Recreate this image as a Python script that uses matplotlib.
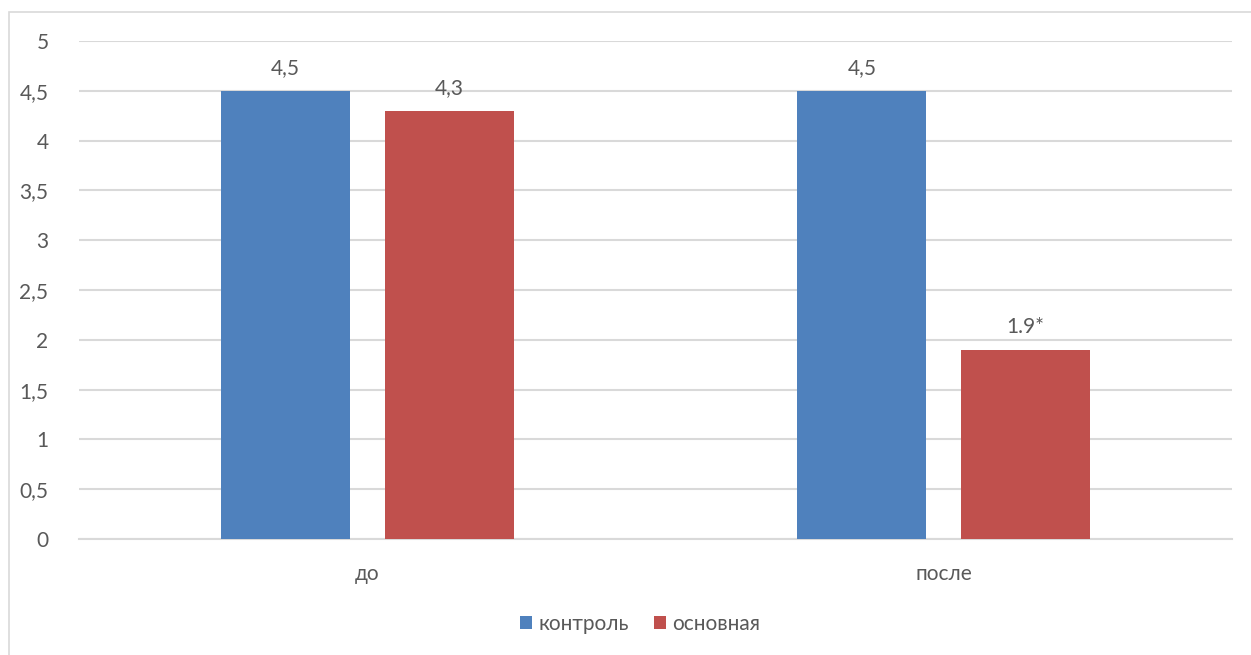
import matplotlib.pyplot as plt
from matplotlib.patches import Rectangle
import numpy as np

plt.rcParams['font.family'] = ['Lato', 'DejaVu Sans']

categories = ['до', 'после']
series_names = ['контроль', 'основная']
kontrol = [4.5, 4.5]
osnovnaya = [4.3, 1.9]
kontrol_labels = ['4,5', '4,5']
osnovnaya_labels = ['4,3', '1.9*']
yticks = [0, 0.5, 1, 1.5, 2, 2.5, 3, 3.5, 4, 4.5, 5]
ytick_labels = ['0', '0,5', '1', '1,5', '2', '2,5', '3', '3,5', '4', '4,5', '5']

blue = '#4F81BD'
red = '#C0504D'
txt = '#595959'
grid = '#D9D9D9'
fs = 15

fig = plt.figure(figsize=(12.51, 6.55), dpi=100)
fig.patches.append(Rectangle((9 / 1251, -0.05), 1.2, 1 - 12 / 655 + 0.05,
                             transform=fig.transFigure, fill=False,
                             edgecolor='#D9D9D9', linewidth=1.2))
ax = fig.add_axes([79 / 1251, 1 - 539 / 655, 1153 / 1251, 498 / 655])

x = np.arange(len(categories))
w = 0.224
off = 0.142
b1 = ax.bar(x - off, kontrol, w, color=blue, label=series_names[0], zorder=3)
b2 = ax.bar(x + off, osnovnaya, w, color=red, label=series_names[1], zorder=3)

for bars, labels in ((b1, kontrol_labels), (b2, osnovnaya_labels)):
    for r, lab in zip(bars, labels):
        ax.annotate(lab, (r.get_x() + r.get_width() / 2, r.get_height()),
                    xytext=(0, 9), textcoords='offset points',
                    ha='center', va='bottom', fontsize=fs, color=txt)

ax.set_xlim(-0.5, 1.5)
ax.set_ylim(0, 5)
ax.set_yticks(yticks)
ax.set_yticklabels(ytick_labels)
ax.set_xticks(x)
ax.set_xticklabels(categories)
ax.tick_params(axis='both', length=0, labelsize=fs, colors=txt)
ax.tick_params(axis='y', pad=22)
ax.tick_params(axis='x', pad=18)
ax.yaxis.grid(True, color=grid, linewidth=1.5, zorder=0)
for s in ['top', 'right', 'left']:
    ax.spines[s].set_visible(False)
ax.spines['bottom'].set_color(grid)
ax.spines['bottom'].set_linewidth(1.5)

fig.legend(handles=[b1, b2], loc='center', bbox_to_anchor=(640 / 1251, 1 - 624 / 655),
           ncol=2, frameon=False, fontsize=fs, labelcolor=txt,
           handlelength=0.6, handleheight=0.6, handletextpad=0.3, columnspacing=1.2)

fig.savefig('out.png', dpi=100, facecolor='white')
